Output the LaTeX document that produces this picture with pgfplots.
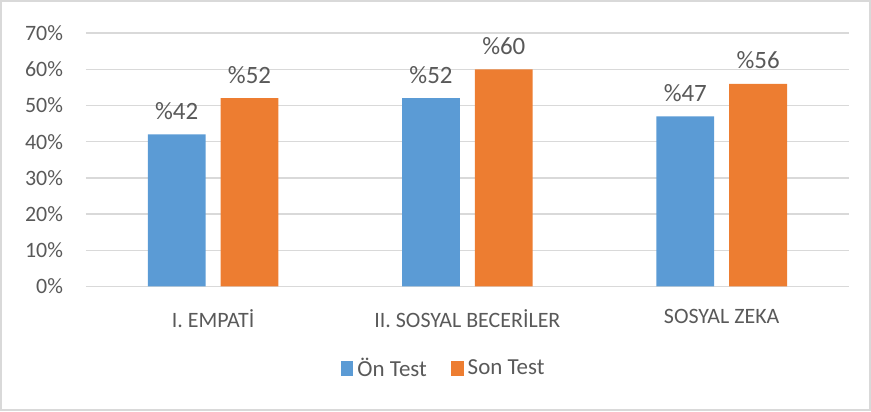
\documentclass[border=0pt]{standalone}
\usepackage{pgfplots}
\pgfplotsset{compat=1.18}
\usepackage{fontspec}
\setmainfont{Carlito}
\definecolor{onblue}{HTML}{5B9BD5}
\definecolor{sonorange}{HTML}{ED7D31}
\definecolor{gridgray}{HTML}{D9D9D9}
\definecolor{txtgray}{HTML}{595959}
\begin{document}
\begin{tikzpicture}
    \draw[gridgray, line width=1.2pt] (-42.5pt,-62pt) rectangle (393pt,143pt);
    \begin{axis}[
        at={(0,0)}, anchor=south west,
        width=382.5pt, height=127pt,
        scale only axis,
        ybar=7.5pt,
        bar width=29pt,
        ymin=0, ymax=70,
        xmin=-0.5, xmax=2.5,
        xtick=data,
        xticklabels={I. EMPATİ, II. SOSYAL BECERİLER, SOSYAL ZEKA},
        ytick={0,10,...,70},
        yticklabel={\pgfmathprintnumber{\tick}\%},
        /pgf/number format/assume math mode=true,
        ymajorgrids,
        grid style={gridgray, line width=0.7pt},
        axis line style={draw=none},
        axis x line*=bottom,
        x axis line style={draw=gridgray, line width=0.8pt},
        axis y line*=left,
        y axis line style={draw=none},
        major tick length=0pt,
        tick label style={font=\fontsize{11}{13}\selectfont, text=txtgray},
        xticklabel style={yshift=-8pt},
        yticklabel style={xshift=-8pt},
        nodes near coords={\%\pgfmathprintnumber{\pgfplotspointmeta}},
        every node near coord/.append style={font=\fontsize{12.5}{15}\selectfont, text=txtgray, yshift=4pt},
        legend style={at={(0.47,-0.325)}, anchor=center, legend columns=2, draw=none,
            font=\fontsize{11.5}{14}\selectfont, text=txtgray,
            /tikz/every even column/.append style={column sep=10pt}},
        legend image code/.code={\draw[#1, draw=none] (0cm,-3.8pt) rectangle (6.5pt,3.8pt);},
    ]
        \addplot[fill=onblue, draw=none] coordinates {(0,42) (1,52) (2,47)};
        \addplot[fill=sonorange, draw=none] coordinates {(0,52) (1,60) (2,56)};
        \legend{Ön Test, Son Test}
    \end{axis}
\end{tikzpicture}
\end{document}
